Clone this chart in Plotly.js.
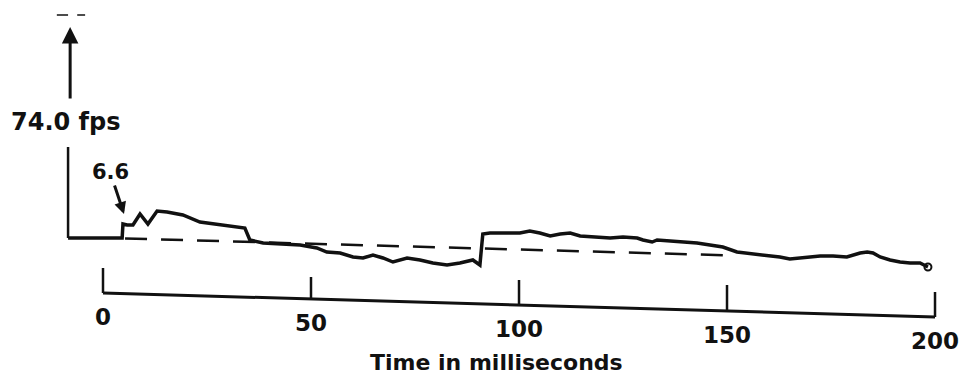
<!DOCTYPE html>
<html>
<head>
<meta charset="utf-8">
<script src="https://cdn.plot.ly/plotly-3.0.1.min.js"></script>
<style>html,body{margin:0;padding:0;background:#fff;}#chart{width:966px;height:381px;}</style>
</head>
<body>
<div id="chart"></div>
<script>
// Velocity trace: time (ms) and trace level (picture rows, downward)
const traceTime = [-8.4, 4.6, 4.8, 5.8, 7.2, 8.9, 10.8, 13.0, 15.4, 19.2, 23.3, 28.8, 32.9, 34.1, 35.3, 38.5,
  47.4, 51.4, 53.8, 57.0, 60.1, 62.5, 64.9, 67.3, 69.7, 73.1, 76.2, 79.3, 82.7, 85.8, 88.9, 90.6, 91.3,
  93.0, 100.2, 102.6, 105.0, 107.5, 109.9, 112.3, 114.7, 118.8, 121.9, 125.0, 128.4, 129.8, 132.0, 133.2,
  136.3, 140.4, 142.8, 145.9, 149.0, 152.4,
  154.8, 157.9, 162.7, 165.1, 167.5, 172.4, 175.5, 178.8, 182.0, 183.7, 185.1, 186.8, 189.2, 191.6, 194.0, 196.4, 198.3];
const traceLevel = [238, 238, 224, 225, 225, 214, 224, 211, 212, 215, 222, 225, 227, 228, 240, 243,
  245, 248, 252, 253, 257, 258, 255, 258, 262, 258, 260, 263, 265, 263, 260, 265, 234,
  233, 233, 231, 233, 236, 234, 233, 236, 237, 238, 237, 238, 240, 242, 240,
  241, 242, 243, 245, 247, 252,
  253, 255, 257, 259, 258, 256, 256, 257, 253, 252, 253, 257, 260, 262, 263, 263, 267];

// Dashed reference line (initial level)
const refTime = [5.3, 151.9];
const refLevel = [238.5, 255.5];

// Time axis (drawn slightly tilted, as on the scan)
const axisTime = [0, 200];
const axisLevel = [293, 317];
const tickValues = [0, 50, 100, 150, 200];
const tickLabels = ['0', '50', '100', '150', '200'];
const tickTopLevel = [268, 277, 280, 285, 292];

// Velocity scale bar and arrow at the left
const scaleTime = [-8.4, -8.4];
const scaleLevel = [147, 238];
const arrowTime = -7.9;
const arrowTailLevel = 100;
const arrowHeadLevel = 27;
const topMarkTime = [-11.1, -8.4, null, -6.2, -4.3];
const topMarkLevel = [15, 15, null, 15, 15];

const axisTitle = 'Time in milliseconds';
const velocityLabel = '74.0 fps';
const jumpLabel = '6.6';

function axisAt(t) {
  const f = (t - axisTime[0]) / (axisTime[1] - axisTime[0]);
  return axisLevel[0] + f * (axisLevel[1] - axisLevel[0]);
}

const ink = '#111111';
const font = 'DejaVu Sans, sans-serif';

const tickX = [], tickY = [];
tickValues.forEach((t, i) => { tickX.push(t, t, null); tickY.push(tickTopLevel[i], axisAt(t), null); });

const traces = [
  {x: scaleTime, y: scaleLevel, mode: 'lines', line: {color: ink, width: 2.5}, hoverinfo: 'skip'},
  {x: topMarkTime, y: topMarkLevel, mode: 'lines', line: {color: ink, width: 1.5}, hoverinfo: 'skip'},
  {x: refTime, y: refLevel, mode: 'lines', line: {color: ink, width: 2.5, dash: '22px,14px'}, hoverinfo: 'skip'},
  {x: traceTime, y: traceLevel, mode: 'lines', line: {color: ink, width: 3.5}, hoverinfo: 'skip'},
  {x: [traceTime[traceTime.length - 1]], y: [traceLevel[traceLevel.length - 1]], mode: 'markers',
   marker: {symbol: 'circle-open', size: 7, color: ink, line: {width: 2, color: ink}}, hoverinfo: 'skip'},
  {x: axisTime, y: axisLevel, mode: 'lines', line: {color: ink, width: 3}, hoverinfo: 'skip'},
  {x: tickX, y: tickY, mode: 'lines', line: {color: ink, width: 2.5}, hoverinfo: 'skip'},
  {x: tickValues, y: tickValues.map(t => axisAt(t) + 26), mode: 'text', text: tickLabels,
   textposition: 'middle center', textfont: {family: font, size: 23, color: ink, weight: 'bold'}, hoverinfo: 'skip'}
];

const layout = {
  width: 966, height: 381,
  margin: {l: 0, r: 0, t: 0, b: 0, pad: 0},
  paper_bgcolor: '#ffffff', plot_bgcolor: '#ffffff',
  showlegend: false,
  xaxis: {range: [-24.76, 207.45], visible: false, fixedrange: true},
  yaxis: {range: [381, 0], visible: false, fixedrange: true},
  annotations: [
    {x: arrowTime, y: arrowHeadLevel, ax: arrowTime, ay: arrowTailLevel, axref: 'x', ayref: 'y',
     xref: 'x', yref: 'y', text: '', showarrow: true, arrowhead: 2, arrowsize: 1.1, arrowwidth: 3, arrowcolor: ink},
    {x: -8.9, y: 122, xref: 'x', yref: 'y', text: velocityLabel, showarrow: false,
     font: {family: font, size: 24, color: ink, weight: 'bold'}},
    {x: 5.05, y: 214, ax: 1.7, ay: 172, axref: 'x', ayref: 'y', xref: 'x', yref: 'y', text: jumpLabel,
     showarrow: true, arrowhead: 2, arrowsize: 0.8, arrowwidth: 3, arrowcolor: ink, standoff: 0,
     font: {family: font, size: 21, color: ink, weight: 'bold'}},
    {x: 94.7, y: 362, xref: 'x', yref: 'y', text: axisTitle, showarrow: false,
     font: {family: font, size: 22, color: ink, weight: 'bold'}}
  ]
};

Plotly.newPlot('chart', traces, layout, {displayModeBar: false, staticPlot: true});
</script>
</body>
</html>
